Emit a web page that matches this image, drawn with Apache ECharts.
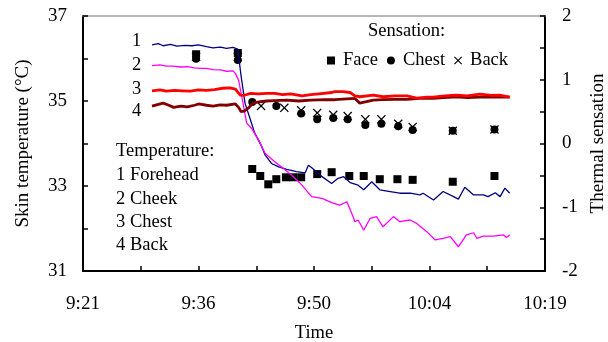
<!DOCTYPE html>
<html>
<head>
<meta charset="utf-8">
<script src="https://cdn.jsdelivr.net/npm/echarts@6/dist/echarts.min.js"></script>
<style>
  html, body { margin: 0; padding: 0; background: #fff; }
  #chart { width: 608px; height: 342px; }
</style>
</head>
<body>
<div id="chart"></div>
<script>
// x values are minutes after midnight (561.6 = 9:21.6)
// skin temperature (°C), [minute, value]
const forehead = [
  [570.2, 36.32], [571.0, 36.35], [571.6, 36.30], [572.5, 36.33], [573.3, 36.29], [574.3, 36.31],
  [575.2, 36.30], [576.0, 36.32], [577.0, 36.28], [577.8, 36.25], [578.7, 36.27], [579.5, 36.24],
  [580.3, 36.26], [580.9, 36.22], [581.3, 35.60], [581.8, 34.95], [582.4, 34.60], [583.0, 34.25],
  [583.9, 33.92], [584.3, 33.73], [585.1, 33.53], [586.0, 33.45], [587.0, 33.39], [588.2, 33.34],
  [589.3, 33.31], [589.7, 33.49], [590.2, 33.42], [591.4, 33.22], [592.6, 33.06], [593.4, 33.18],
  [594.1, 33.22], [594.9, 33.08], [595.9, 33.02], [596.6, 32.91], [597.6, 33.10], [598.6, 32.91],
  [599.9, 32.87], [601.1, 32.83], [602.4, 32.83], [603.6, 32.79], [604.0, 32.83], [605.3, 32.67],
  [606.5, 32.87], [607.8, 32.75], [608.4, 32.69], [609.2, 32.97], [610.3, 32.79], [611.5, 32.79],
  [612.1, 32.75], [613.0, 32.84], [613.6, 32.75], [614.2, 32.95], [614.8, 32.83]
];
const cheek = [
  [570.2, 35.83], [571.2, 35.85], [572.0, 35.82], [572.9, 35.82], [573.8, 35.80], [574.6, 35.81],
  [575.5, 35.78], [576.2, 35.77], [577.0, 35.77], [577.8, 35.74], [578.7, 35.73], [579.5, 35.70],
  [580.3, 35.71], [580.6, 35.65], [581.0, 35.49], [581.6, 34.90], [582.0, 34.48], [582.6, 34.36],
  [583.5, 34.08], [584.3, 33.77], [585.5, 33.57], [586.4, 33.44], [587.6, 33.26], [588.9, 33.02],
  [590.1, 32.75], [591.4, 32.71], [592.6, 32.61], [593.6, 32.55], [594.5, 32.63], [595.1, 32.36],
  [595.5, 32.16], [595.9, 32.20], [596.6, 31.96], [597.4, 32.24], [598.2, 32.28], [599.0, 32.04],
  [600.3, 32.28], [601.1, 32.16], [602.4, 32.20], [603.2, 32.12], [604.5, 31.92], [605.5, 31.73],
  [606.5, 31.77], [607.4, 31.81], [608.4, 31.57], [609.4, 31.85], [610.3, 31.90], [610.7, 31.77],
  [611.5, 31.82], [612.8, 31.82], [614.0, 31.85], [614.4, 31.79], [614.8, 31.85]
];
const chest = [
  [570.2, 35.24], [571.2, 35.26], [572.0, 35.23], [573.0, 35.25], [574.0, 35.24], [575.0, 35.23],
  [576.0, 35.26], [577.0, 35.25], [578.0, 35.27], [579.0, 35.30], [579.9, 35.31], [580.6, 35.28],
  [581.2, 35.14], [581.6, 35.13], [582.5, 35.18], [583.5, 35.17], [584.5, 35.18], [585.5, 35.18],
  [586.5, 35.15], [587.5, 35.17], [588.9, 35.12], [590.0, 35.15], [591.0, 35.17], [592.6, 35.20],
  [593.0, 35.22], [594.0, 35.22], [594.9, 35.20], [595.5, 35.12], [596.1, 35.10], [597.8, 35.14],
  [599.0, 35.10], [600.5, 35.12], [602.0, 35.12], [603.2, 35.07], [604.5, 35.09], [605.3, 35.09],
  [606.1, 35.11], [607.5, 35.13], [608.2, 35.14], [609.5, 35.12], [611.1, 35.16], [612.5, 35.13],
  [613.5, 35.14], [614.8, 35.09]
];
const back = [
  [570.2, 34.88], [571.0, 34.92], [571.6, 34.95], [572.3, 34.90], [572.9, 34.85], [573.8, 34.88],
  [574.6, 34.86], [575.5, 34.90], [576.0, 34.93], [577.0, 34.90], [577.8, 34.88], [578.7, 34.91],
  [579.5, 34.90], [580.6, 34.93], [581.0, 34.85], [581.3, 34.75], [581.7, 34.76], [582.2, 34.83],
  [582.8, 34.95], [583.5, 34.98], [584.5, 35.00], [585.5, 35.01], [587.0, 35.02], [588.5, 35.00],
  [590.0, 35.02], [591.8, 35.03], [593.0, 35.03], [594.5, 35.05], [595.5, 35.06], [596.1, 34.95],
  [596.8, 34.98], [597.8, 35.02], [599.0, 35.03], [600.5, 35.04], [602.0, 35.04], [603.5, 35.06],
  [605.3, 35.06], [606.5, 35.08], [608.2, 35.10], [609.5, 35.08], [611.1, 35.09], [612.5, 35.10],
  [614.8, 35.09]
];

// thermal sensation votes (right axis)
const faceTimes = [575.7, 580.9, 582.7, 583.7, 584.7, 585.7, 586.9, 587.8, 588.8, 590.8, 592.6, 594.8, 596.6, 598.6, 600.8, 602.7, 607.7, 612.9];
const faceVotes = [1.40, 1.42, -0.40, -0.51, -0.64, -0.56, -0.53, -0.53, -0.53, -0.48, -0.45, -0.51, -0.51, -0.56, -0.56, -0.57, -0.60, -0.51];
const chestTimes = [575.7, 580.9, 582.7, 585.7, 588.8, 590.8, 592.8, 594.6, 596.8, 598.8, 600.9, 602.7, 607.7, 612.9];
const chestVotes = [1.33, 1.31, 0.65, 0.59, 0.47, 0.38, 0.40, 0.38, 0.29, 0.31, 0.27, 0.21, 0.20, 0.22];
const backTimes = [575.7, 580.9, 583.8, 586.7, 588.8, 590.8, 592.8, 594.6, 596.8, 598.8, 600.9, 602.7, 607.7, 612.9];
const backVotes = [1.36, 1.36, 0.59, 0.56, 0.52, 0.48, 0.45, 0.43, 0.38, 0.38, 0.31, 0.26, 0.20, 0.22];

const lineLabels = ['1', '2', '3', '4'];
const tempLegend = ['Temperature:', '1 Forehead', '2 Cheek', '3 Chest', '4 Back'];

const crossPath = 'path://M0,1L1,0L5,4L9,0L10,1L6,5L10,9L9,10L5,6L1,10L0,9L4,5Z';
const font = 'Liberation Serif';

function zip(xs, ys) {
  return xs.map((x, i) => [x, ys[i]]);
}

function fmtTime(v) {
  if (Math.round((v - 561.6) / 7.2) % 2 !== 0) return '';
  let h = Math.floor(v / 60 + 1e-9);
  let m = Math.floor(v - h * 60 + 1e-6);
  return h + ':' + (m < 10 ? '0' + m : m);
}

let myChart = echarts.init(document.getElementById('chart'));

let textStyle = { fontFamily: font, fontSize: 18.5, fill: '#000' };
let graphics = [];
[42, 66, 90, 112].forEach((y, i) => {
  graphics.push({ type: 'text', left: 132, top: y - 10, style: Object.assign({ text: lineLabels[i] }, textStyle) });
});
[152, 176, 200, 223, 246].forEach((y, i) => {
  graphics.push({ type: 'text', left: 116, top: y - 10, style: Object.assign({ text: tempLegend[i] }, textStyle) });
});
graphics.push({ type: 'text', left: 368, top: 22, style: Object.assign({ text: 'Sensation:' }, textStyle) });

let option = {
  animation: false,
  grid: { left: 83, right: 63, top: 16, bottom: 71, outerBoundsMode: 'none', containLabel: false },
  legend: {
    data: [
      { name: 'Face', icon: 'rect' },
      { name: 'Chest', icon: 'circle' },
      { name: 'Back', icon: crossPath }
    ],
    left: 322,
    top: 46,
    itemWidth: 8,
    itemHeight: 8,
    itemGap: 9,
    selectedMode: false,
    textStyle: { fontFamily: font, fontSize: 18.5, color: '#000', padding: [0, 0, 0, 3] }
  },
  graphic: graphics,
  xAxis: [{
    type: 'value',
    min: 561.6,
    max: 619.2,
    interval: 7.2,
    name: 'Time',
    nameLocation: 'middle',
    nameGap: 53,
    nameTextStyle: { fontFamily: font, fontSize: 18.5, color: '#000' },
    axisLine: { show: true, onZero: false, lineStyle: { color: '#000', width: 2 } },
    axisTick: { show: true, inside: true, length: 5, lineStyle: { color: '#000', width: 1.5 } },
    axisLabel: { formatter: fmtTime, fontFamily: font, fontSize: 19, color: '#000', margin: 24, showMinLabel: true, showMaxLabel: true },
    splitLine: { show: false }
  }, {
    type: 'value',
    position: 'top',
    min: 561.6,
    max: 619.2,
    axisLine: { show: true, onZero: false, lineStyle: { color: '#a0a0a0', width: 1.5 } },
    axisTick: { show: false },
    axisLabel: { show: false },
    splitLine: { show: false }
  }],
  yAxis: [{
    type: 'value',
    min: 31,
    max: 37,
    interval: 1,
    name: 'Skin temperature (°C)',
    nameLocation: 'middle',
    nameRotate: 90,
    nameGap: 50,
    nameTextStyle: { fontFamily: font, fontSize: 19, color: '#000' },
    axisLine: { show: true, onZero: false, lineStyle: { color: '#000', width: 2 } },
    axisTick: { show: true, inside: true, length: 5, lineStyle: { color: '#000', width: 1.5 } },
    axisLabel: {
      formatter: v => (Math.round(v) % 2 === 1 ? String(v) : ''),
      fontFamily: font, fontSize: 19, color: '#000', margin: 16
    },
    splitLine: { show: false }
  }, {
    type: 'value',
    position: 'right',
    min: -2,
    max: 2,
    interval: 0.5,
    name: 'Thermal sensation',
    nameLocation: 'middle',
    nameRotate: 90,
    nameGap: 42,
    nameTextStyle: { fontFamily: font, fontSize: 19, color: '#000' },
    axisLine: { show: true, onZero: false, lineStyle: { color: '#000', width: 2 } },
    axisTick: { show: true, inside: true, length: 5, lineStyle: { color: '#000', width: 1.5 } },
    axisLabel: {
      formatter: v => (Math.abs(v - Math.round(v)) < 1e-6 ? String(Math.round(v)) : ''),
      fontFamily: font, fontSize: 19, color: '#000', margin: 17
    },
    splitLine: { show: false }
  }],
  series: [{
    name: '1 Forehead',
    type: 'line',
    symbol: 'none',
    lineStyle: { color: '#000080', width: 1.3 },
    data: forehead
  }, {
    name: '2 Cheek',
    type: 'line',
    symbol: 'none',
    lineStyle: { color: '#ff00ff', width: 1.3 },
    data: cheek
  }, {
    name: '4 Back',
    type: 'line',
    symbol: 'none',
    lineStyle: { color: '#800000', width: 2.8 },
    data: back
  }, {
    name: '3 Chest',
    type: 'line',
    symbol: 'none',
    lineStyle: { color: '#ff0000', width: 2.8 },
    data: chest
  }, {
    name: 'Back',
    type: 'scatter',
    yAxisIndex: 1,
    symbol: crossPath,
    symbolSize: 9,
    itemStyle: { color: '#000', opacity: 1 },
    data: zip(backTimes, backVotes)
  }, {
    name: 'Chest',
    type: 'scatter',
    yAxisIndex: 1,
    symbol: 'circle',
    symbolSize: 8,
    itemStyle: { color: '#000', opacity: 1 },
    data: zip(chestTimes, chestVotes)
  }, {
    name: 'Face',
    type: 'scatter',
    yAxisIndex: 1,
    symbol: 'rect',
    symbolSize: 8,
    itemStyle: { color: '#000', opacity: 1 },
    data: zip(faceTimes, faceVotes)
  }]
};

myChart.setOption(option);
</script>
</body>
</html>
